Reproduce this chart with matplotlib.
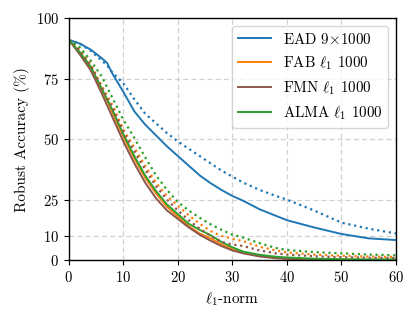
import matplotlib
matplotlib.use("Agg")
import matplotlib.pyplot as plt

plt.rcParams['font.family'] = 'serif'
plt.rcParams['font.serif'] = ['cmr10']
plt.rcParams['mathtext.fontset'] = 'cm'
plt.rcParams['axes.formatter.use_mathtext'] = True

x = [0, 2, 4, 6, 7, 8, 10, 12, 14, 16, 18, 20, 22, 24, 26, 28, 30, 32, 35, 38, 40, 45, 50, 55, 60]

ead_solid = [91, 89.5, 87, 83.5, 81.5, 77, 69.5, 61.5, 56, 51.5, 47, 43, 39, 35, 31.8, 29, 26.5, 24.5, 21, 18.3, 16.5, 13.5, 10.8, 9, 8.3]
ead_dot = [91, 89.5, 86.5, 82.5, 80.5, 77.5, 73, 66.5, 60.5, 56.5, 52.5, 49, 46, 43, 40, 37, 34.5, 32, 29, 26.5, 25, 20.5, 15.5, 13, 11]

fab_solid = [91, 85.5, 79.5, 70.5, 66, 61, 51, 42, 34, 27.5, 22, 18, 14, 11, 9, 6.5, 4.5, 3, 1.8, 1, 0.6, 0.2, 0.1, 0.1, 0.1]
fab_dot = [91, 87, 81, 72, 68, 64, 54, 46.5, 39, 32, 26.5, 22.5, 18.5, 15, 12, 10, 8.8, 7.8, 5.5, 4, 3.2, 2.3, 1.8, 1.5, 1.3]

fmn_solid = [91, 85, 78.5, 69, 64, 59, 49, 40, 32, 25.5, 20.5, 17, 13.5, 10.5, 8, 5.8, 4, 2.8, 1.5, 0.8, 0.5, 0.1, 0, 0, 0]
fmn_dot = [91, 86.5, 80.5, 71.5, 67, 63, 53, 45, 37.5, 30.5, 25, 20.5, 16.5, 13, 10, 7.5, 6.5, 5.8, 4, 2.8, 2.3, 1.6, 1.2, 1, 0.9]

alma_solid = [91, 86, 80, 71, 66.5, 62, 52, 43, 35, 28.5, 23, 19, 15, 12.5, 10.3, 7.5, 5.3, 3.5, 2.2, 1.4, 1.1, 0.6, 0.4, 0.3, 0.3]
alma_dot = [91, 88, 82.5, 76, 71.5, 67, 58, 50.5, 42.5, 35, 29, 24, 20.5, 17.5, 14.8, 12.5, 10.5, 9.3, 7, 5, 4.2, 3.3, 2.8, 2.3, 2]

labels = ['EAD $9{\\times}1000$', 'FAB $\\ell_1$ 1000', 'FMN $\\ell_1$ 1000', 'ALMA $\\ell_1$ 1000']
colors = ['#1f77b4', '#ff7f0e', '#8c564b', '#2ca02c']
x_ticks = [0, 10, 20, 30, 40, 50, 60]
y_ticks = [0, 10, 25, 50, 75, 100]

fig = plt.figure(figsize=(4.15, 3.18), dpi=100)
ax = fig.add_axes([0.166, 0.182, 0.788, 0.761])

solids = [ead_solid, fab_solid, fmn_solid, alma_solid]
dots = [ead_dot, fab_dot, fmn_dot, alma_dot]
for s, lab, c in zip(solids, labels, colors):
    ax.plot(x, s, color=c, lw=1.4, label=lab)
for d, c in zip(dots, colors):
    ax.plot(x, d, color=c, lw=1.6, ls=':')

ax.set_xlim(0, 60)
ax.set_ylim(0, 100)
ax.set_xticks(x_ticks)
ax.set_yticks(y_ticks)
ax.grid(True, ls=(0, (4, 2.5)), color='#d0d0d0', lw=0.9)
ax.set_axisbelow(True)
ax.tick_params(labelsize=10.5, direction='out', length=3.5)
ax.set_xlabel('$\\ell_1$-norm', fontsize=11)
ax.set_ylabel('Robust Accuracy (%)', fontsize=11)
ax.legend(loc='upper right', fontsize=10.8, handlelength=2.2)
for sp in ax.spines.values():
    sp.set_linewidth(1.0)

fig.savefig('out.png', dpi=100)
